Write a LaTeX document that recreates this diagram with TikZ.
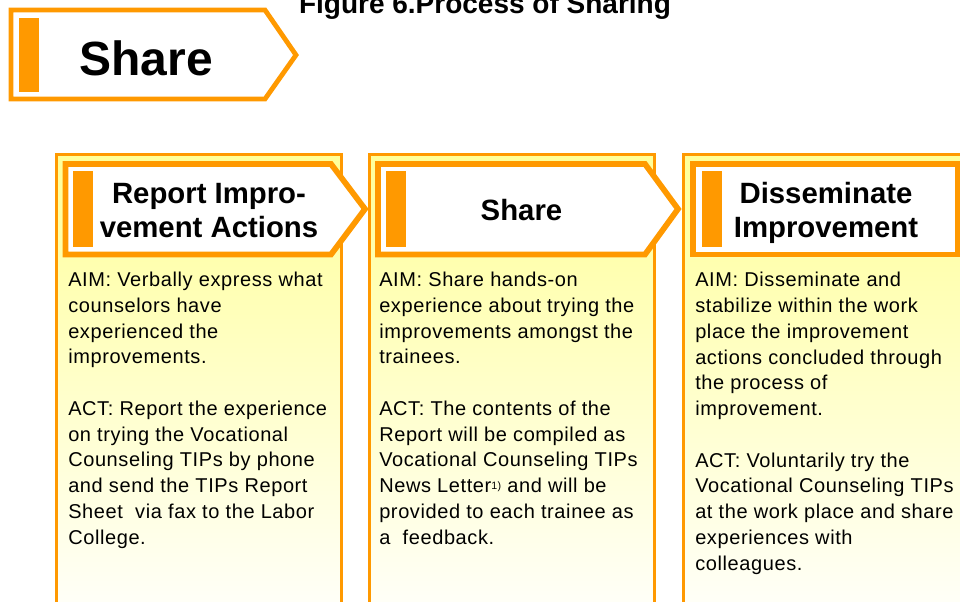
\documentclass[tikz,border=0pt]{standalone}
\usepackage{fontspec}
\setmainfont{Liberation Sans}
\newfontfamily\bodyfont[LetterSpace=3]{Liberation Sans}
\usetikzlibrary{positioning}
\definecolor{shareorange}{HTML}{FF9900}
\definecolor{shareyellow}{HTML}{FFFF99}
\tikzset{
    colbox/.style={
           draw=shareorange,
           line width=2.25pt,
           top color=shareyellow,
           bottom color=white},
    headbox/.style={
           draw=shareorange,
           line width=4.3pt,
           fill=white},
    bar/.style={
           fill=shareorange},
    headtxt/.style={
           font=\bfseries\fontsize{22}{25.5}\selectfont,
           align=center,
           anchor=base,
           inner sep=0pt},
    bodytxt/.style={
           font=\bodyfont\fontsize{15}{19.3}\selectfont,
           align=left,
           anchor=base west,
           inner sep=0pt}
}

\begin{document}
\begin{tikzpicture}[x=0.75pt, y=-0.75pt]
    \useasboundingbox (0,0) rectangle (960,601);
    \clip (0,0) rectangle (960,601);

    % title and top arrow
    \node[font=\bfseries\fontsize{21}{25}\selectfont, anchor=base] (title) at (485,13) {Figure 6.Process of Sharing};
    \draw[headbox, line width=3.6pt] (11,10) -- (265,10) -- (296,55) -- (265,99) -- (11,99) -- cycle;
    \fill[bar] (19,18) rectangle (39,92);
    \node[font=\bfseries\fontsize{36}{40}\selectfont, anchor=base] (share) at (146,75) {Share};

    % columns
    \draw[colbox] (56.7,154.7) rectangle (341.7,640);
    \draw[colbox] (369.5,154.7) rectangle (654.7,640);
    \draw[colbox] (683,154.7) rectangle (968,640);

    % headers
    \draw[headbox] (65.5,164) -- (331,164) -- (365,209) -- (331,254.5) -- (65.5,254.5) -- cycle;
    \draw[headbox] (378,164) -- (645,164) -- (678,209) -- (645,254.5) -- (378,254.5) -- cycle;
    \draw[headbox] (693.3,164) -- (958,164) -- (958,254.5) -- (693.3,254.5) -- cycle;
    \fill[bar] (73,171) rectangle (93,247);
    \fill[bar] (386,171) rectangle (406,247);
    \fill[bar] (702,171) rectangle (722,247);

    % (base = last line)
    \node[headtxt] (h1) at (209,237) {Report Impro-\\vement Actions};
    \node[headtxt] (h2) at (521.5,220) {Share};
    \node[headtxt] (h3) at (826,237) {Disseminate\\Improvement};

    % texts, placed by their last line
    \node[bodytxt] (t1) at (68,544) {AIM: Verbally express what\\counselors have\\experienced the\\improvements.\\[19.3pt]
        ACT: Report the experience\\on trying the Vocational\\Counseling TIPs by phone\\and send the TIPs Report\\Sheet\ \ via fax to the Labor\\College.};
    \node[bodytxt] (t2) at (379,544) {AIM: Share hands-on\\experience about trying the\\improvements amongst the\\trainees.\\[19.3pt]
        ACT: The contents of the\\Report will be compiled as\\Vocational Counseling TIPs\\News Letter{\fontsize{8}{8}\selectfont\raisebox{0.6ex}{1)}} and will be\\provided to each trainee as\\a\ \ feedback.};
    \node[bodytxt] (t3) at (695,570) {AIM: Disseminate and\\stabilize within the work\\place the improvement\\actions concluded through\\the process of\\improvement.\\[19.3pt]
        ACT: Voluntarily try the\\Vocational Counseling TIPs\\at the work place and share\\experiences with\\colleagues.};
\end{tikzpicture}
\end{document}
